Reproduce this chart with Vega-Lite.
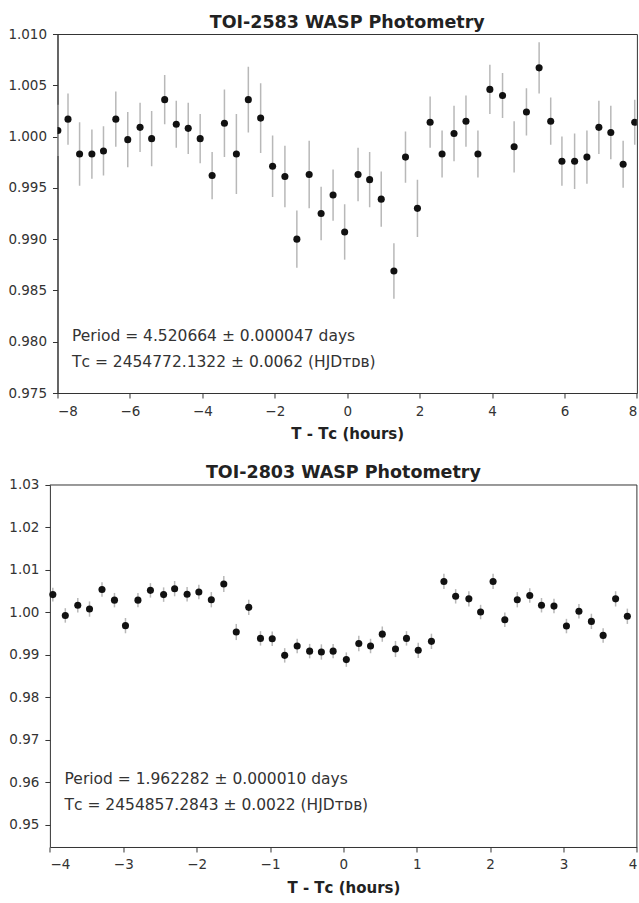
{
  "$schema": "https://vega.github.io/schema/vega-lite/v6.json",
  "padding": {"top": 13, "left": 6.5, "right": 2, "bottom": 5},
  "background": "white",
  "spacing": 22,
  "config": {
    "font": "DejaVu Sans",
    "view": {"stroke": "#333", "strokeWidth": 1},
    "axis": {"grid": false, "domainColor": "#333", "tickColor": "#333", "labelColor": "#333", "labelFont": "DejaVu Sans", "labelFontSize": 13.5, "tickSize": 5, "labelPadding": 6, "titleFont": "DejaVu Sans", "titleFontSize": 15, "titleFontWeight": "bold", "titleColor": "#222"},
    "axisX": {"titlePadding": 9, "format": "d"},
    "title": {"font": "DejaVu Sans", "fontSize": 17.5, "fontWeight": "bold", "color": "#222", "offset": -4}
  },
  "datasets": {
    "toi2583": [
      {"t": -7.99, "flux": 1.0006, "err": 0.0025},
      {"t": -7.71, "flux": 1.0017, "err": 0.0025},
      {"t": -7.39, "flux": 0.9983, "err": 0.0031},
      {"t": -7.05, "flux": 0.9983, "err": 0.0024},
      {"t": -6.73, "flux": 0.9986, "err": 0.0024},
      {"t": -6.39, "flux": 1.0017, "err": 0.0027},
      {"t": -6.06, "flux": 0.9997, "err": 0.0027},
      {"t": -5.72, "flux": 1.0009, "err": 0.0024},
      {"t": -5.40, "flux": 0.9998, "err": 0.0027},
      {"t": -5.04, "flux": 1.0036, "err": 0.0024},
      {"t": -4.72, "flux": 1.0012, "err": 0.0023},
      {"t": -4.39, "flux": 1.0008, "err": 0.0025},
      {"t": -4.06, "flux": 0.9998, "err": 0.0024},
      {"t": -3.73, "flux": 0.9962, "err": 0.0023},
      {"t": -3.39, "flux": 1.0013, "err": 0.0033},
      {"t": -3.06, "flux": 0.9983, "err": 0.0039},
      {"t": -2.73, "flux": 1.0036, "err": 0.0032},
      {"t": -2.39, "flux": 1.0018, "err": 0.0034},
      {"t": -2.06, "flux": 0.9971, "err": 0.0030},
      {"t": -1.72, "flux": 0.9961, "err": 0.0030},
      {"t": -1.39, "flux": 0.9900, "err": 0.0028},
      {"t": -1.05, "flux": 0.9963, "err": 0.0033},
      {"t": -0.72, "flux": 0.9925, "err": 0.0026},
      {"t": -0.39, "flux": 0.9943, "err": 0.0025},
      {"t": -0.07, "flux": 0.9907, "err": 0.0027},
      {"t": 0.30, "flux": 0.9963, "err": 0.0026},
      {"t": 0.62, "flux": 0.9958, "err": 0.0027},
      {"t": 0.94, "flux": 0.9939, "err": 0.0027},
      {"t": 1.29, "flux": 0.9869, "err": 0.0027},
      {"t": 1.61, "flux": 0.9980, "err": 0.0025},
      {"t": 1.94, "flux": 0.9930, "err": 0.0028},
      {"t": 2.29, "flux": 1.0014, "err": 0.0025},
      {"t": 2.62, "flux": 0.9983, "err": 0.0023},
      {"t": 2.95, "flux": 1.0003, "err": 0.0027},
      {"t": 3.28, "flux": 1.0015, "err": 0.0025},
      {"t": 3.61, "flux": 0.9983, "err": 0.0023},
      {"t": 3.94, "flux": 1.0046, "err": 0.0024},
      {"t": 4.29, "flux": 1.0040, "err": 0.0022},
      {"t": 4.61, "flux": 0.9990, "err": 0.0025},
      {"t": 4.95, "flux": 1.0024, "err": 0.0023},
      {"t": 5.30, "flux": 1.0067, "err": 0.0025},
      {"t": 5.62, "flux": 1.0015, "err": 0.0023},
      {"t": 5.93, "flux": 0.9976, "err": 0.0024},
      {"t": 6.28, "flux": 0.9976, "err": 0.0027},
      {"t": 6.62, "flux": 0.9980, "err": 0.0026},
      {"t": 6.95, "flux": 1.0009, "err": 0.0026},
      {"t": 7.28, "flux": 1.0004, "err": 0.0026},
      {"t": 7.62, "flux": 0.9973, "err": 0.0023},
      {"t": 7.94, "flux": 1.0014, "err": 0.0022}
    ],
    "toi2803": [
      {"t": -3.96, "flux": 1.0042, "err": 0.0016},
      {"t": -3.79, "flux": 0.9993, "err": 0.0017},
      {"t": -3.62, "flux": 1.0017, "err": 0.0017},
      {"t": -3.46, "flux": 1.0008, "err": 0.0018},
      {"t": -3.29, "flux": 1.0054, "err": 0.0017},
      {"t": -3.12, "flux": 1.0029, "err": 0.0017},
      {"t": -2.97, "flux": 0.9969, "err": 0.0018},
      {"t": -2.80, "flux": 1.0029, "err": 0.0017},
      {"t": -2.63, "flux": 1.0052, "err": 0.0017},
      {"t": -2.45, "flux": 1.0042, "err": 0.0017},
      {"t": -2.30, "flux": 1.0056, "err": 0.0018},
      {"t": -2.13, "flux": 1.0043, "err": 0.0017},
      {"t": -1.97, "flux": 1.0048, "err": 0.0017},
      {"t": -1.80, "flux": 1.0030, "err": 0.0018},
      {"t": -1.63, "flux": 1.0067, "err": 0.0019},
      {"t": -1.46, "flux": 0.9954, "err": 0.0019},
      {"t": -1.29, "flux": 1.0012, "err": 0.0018},
      {"t": -1.13, "flux": 0.9939, "err": 0.0017},
      {"t": -0.97, "flux": 0.9938, "err": 0.0017},
      {"t": -0.80, "flux": 0.9899, "err": 0.0017},
      {"t": -0.63, "flux": 0.9921, "err": 0.0017},
      {"t": -0.46, "flux": 0.9909, "err": 0.0017},
      {"t": -0.30, "flux": 0.9907, "err": 0.0018},
      {"t": -0.14, "flux": 0.9909, "err": 0.0017},
      {"t": 0.04, "flux": 0.9889, "err": 0.0017},
      {"t": 0.21, "flux": 0.9927, "err": 0.0018},
      {"t": 0.37, "flux": 0.9921, "err": 0.0017},
      {"t": 0.53, "flux": 0.9949, "err": 0.0018},
      {"t": 0.71, "flux": 0.9914, "err": 0.0019},
      {"t": 0.86, "flux": 0.9939, "err": 0.0017},
      {"t": 1.02, "flux": 0.9911, "err": 0.0018},
      {"t": 1.20, "flux": 0.9932, "err": 0.0018},
      {"t": 1.37, "flux": 1.0073, "err": 0.0018},
      {"t": 1.53, "flux": 1.0038, "err": 0.0017},
      {"t": 1.71, "flux": 1.0032, "err": 0.0018},
      {"t": 1.87, "flux": 1.0001, "err": 0.0017},
      {"t": 2.04, "flux": 1.0073, "err": 0.0018},
      {"t": 2.20, "flux": 0.9983, "err": 0.0017},
      {"t": 2.37, "flux": 1.0030, "err": 0.0018},
      {"t": 2.54, "flux": 1.0040, "err": 0.0017},
      {"t": 2.70, "flux": 1.0017, "err": 0.0017},
      {"t": 2.87, "flux": 1.0015, "err": 0.0017},
      {"t": 3.04, "flux": 0.9968, "err": 0.0017},
      {"t": 3.21, "flux": 1.0003, "err": 0.0017},
      {"t": 3.38, "flux": 0.9979, "err": 0.0018},
      {"t": 3.54, "flux": 0.9946, "err": 0.0017},
      {"t": 3.71, "flux": 1.0032, "err": 0.0018},
      {"t": 3.87, "flux": 0.9991, "err": 0.0018}
    ]
  },
  "vconcat": [
    {
      "title": "TOI-2583 WASP Photometry",
      "width": 579.4,
      "height": 359,
      "layer": [
        {
          "data": {"name": "toi2583"},
          "mark": {"type": "errorbar", "color": "#b8b8b8", "thickness": 1.5, "clip": true},
          "encoding": {
            "x": {"field": "t", "type": "quantitative", "scale": {"domain": [-8, 8], "nice": false, "zero": false}, "axis": {"values": [-8, -6, -4, -2, 0, 2, 4, 6, 8], "format": "d", "title": "T - Tᴄ (hours)"}},
            "y": {"field": "flux", "type": "quantitative", "scale": {"domain": [0.975, 1.01], "nice": false, "zero": false}, "axis": {"values": [0.975, 0.98, 0.985, 0.99, 0.995, 1.0, 1.005, 1.01], "format": ".3f", "title": null}},
            "yError": {"field": "err"}
          }
        },
        {
          "data": {"name": "toi2583"},
          "mark": {"type": "point", "filled": true, "color": "#111", "size": 50, "opacity": 1, "clip": true},
          "encoding": {
            "x": {"field": "t", "type": "quantitative"},
            "y": {"field": "flux", "type": "quantitative"}
          }
        },
        {
          "data": {"values": [{"label": "Period = 4.520664 ± 0.000047 days"}]},
          "mark": {"type": "text", "align": "left", "baseline": "middle", "fontSize": 15.5, "color": "#333"},
          "encoding": {"text": {"field": "label", "type": "nominal"}, "x": {"datum": -7.6, "type": "quantitative"}, "y": {"datum": 0.9806, "type": "quantitative"}}
        },
        {
          "data": {"values": [{"label": "Tᴄ = 2454772.1322 ± 0.0062 (HJDᴛᴅʙ)"}]},
          "mark": {"type": "text", "align": "left", "baseline": "middle", "fontSize": 15.5, "color": "#333"},
          "encoding": {"text": {"field": "label", "type": "nominal"}, "x": {"datum": -7.6, "type": "quantitative"}, "y": {"datum": 0.978, "type": "quantitative"}}
        }
      ]
    },
    {
      "title": {"text": "TOI-2803 WASP Photometry", "dx": -3.8},
      "width": 579.4,
      "height": 362,
      "view": {"stroke": null},
      "layer": [
        {
          "data": {"name": "toi2803"},
          "mark": {"type": "errorbar", "color": "#b8b8b8", "thickness": 1.5, "clip": false},
          "encoding": {
            "x": {"field": "t", "type": "quantitative", "scale": {"domain": [-4, 4], "nice": false, "zero": false, "range": [-7.6, 579.4]}, "axis": {"values": [-4, -3, -2, -1, 0, 1, 2, 3, 4], "format": "d", "title": "T - Tᴄ (hours)"}},
            "y": {"field": "flux", "type": "quantitative", "scale": {"domain": [0.9448, 1.03], "nice": false, "zero": false}, "axis": {"values": [0.95, 0.96, 0.97, 0.98, 0.99, 1.0, 1.01, 1.02, 1.03], "format": ".2f", "title": null, "offset": 7.6}},
            "yError": {"field": "err"}
          }
        },
        {
          "data": {"name": "toi2803"},
          "mark": {"type": "point", "filled": true, "color": "#111", "size": 50, "opacity": 1, "clip": false},
          "encoding": {
            "x": {"field": "t", "type": "quantitative"},
            "y": {"field": "flux", "type": "quantitative"}
          }
        },
        {
          "data": {"values": [{"edge": "top"}]},
          "mark": {"type": "rule", "color": "#333", "strokeWidth": 1},
          "encoding": {"x": {"datum": -4, "type": "quantitative"}, "x2": {"datum": 4}, "y": {"datum": 1.03, "type": "quantitative"}}
        },
        {
          "data": {"values": [{"edge": "right"}]},
          "mark": {"type": "rule", "color": "#333", "strokeWidth": 1},
          "encoding": {"x": {"datum": 4, "type": "quantitative"}, "y": {"datum": 0.9448, "type": "quantitative"}, "y2": {"datum": 1.03}}
        },
        {
          "data": {"values": [{"label": "Period = 1.962282 ± 0.000010 days"}]},
          "mark": {"type": "text", "align": "left", "baseline": "middle", "fontSize": 15.5, "color": "#333"},
          "encoding": {"text": {"field": "label", "type": "nominal"}, "x": {"datum": -3.8, "type": "quantitative"}, "y": {"datum": 0.9607, "type": "quantitative"}}
        },
        {
          "data": {"values": [{"label": "Tᴄ = 2454857.2843 ± 0.0022 (HJDᴛᴅʙ)"}]},
          "mark": {"type": "text", "align": "left", "baseline": "middle", "fontSize": 15.5, "color": "#333"},
          "encoding": {"text": {"field": "label", "type": "nominal"}, "x": {"datum": -3.8, "type": "quantitative"}, "y": {"datum": 0.9548, "type": "quantitative"}}
        }
      ]
    }
  ]
}
